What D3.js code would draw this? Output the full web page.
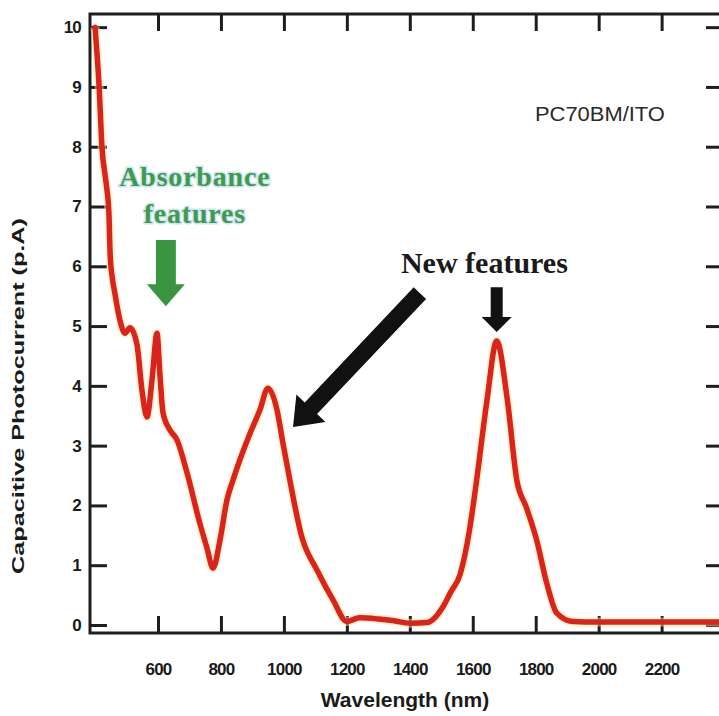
<!DOCTYPE html>
<html>
<head>
<meta charset="utf-8">
<script src="https://cdn.jsdelivr.net/npm/d3@7"></script>
<style>
  html, body { margin: 0; padding: 0; background: #fff; }
  svg { display: block; }
</style>
</head>
<body>
<svg id="chart" width="719" height="716"></svg>
<script>
// ---- data ----
const wavelength = [400, 413, 422, 435, 444, 448, 455, 463, 479, 495, 511, 533, 549, 565, 581, 597, 606, 616, 638, 660, 692, 733, 755, 775, 797, 819, 838, 860, 892, 924, 949, 978, 997, 1019, 1057, 1105, 1156, 1200, 1240, 1300, 1350, 1400, 1455, 1505, 1530, 1560, 1590, 1613, 1645, 1676, 1710, 1740, 1770, 1803, 1835, 1867, 1918, 2000, 2100, 2200, 2300, 2395];
const photocurrent = [10.0, 9.0, 8.0, 7.4, 6.9, 6.2, 5.8, 5.55, 5.1, 4.88, 4.97, 4.7, 3.93, 3.48, 4.1, 4.88, 4.2, 3.55, 3.26, 3.1, 2.55, 1.7, 1.3, 0.95, 1.42, 2.09, 2.42, 2.76, 3.2, 3.6, 3.96, 3.6, 3.04, 2.42, 1.47, 0.92, 0.42, 0.06, 0.12, 0.1, 0.07, 0.03, 0.04, 0.3, 0.55, 0.85, 1.6, 2.45, 3.75, 4.75, 3.76, 2.42, 1.97, 1.42, 0.7, 0.2, 0.06, 0.05, 0.05, 0.05, 0.05, 0.05];
const xTicks = [600, 800, 1000, 1200, 1400, 1600, 1800, 2000, 2200];
const yTicks = [0, 1, 2, 3, 4, 5, 6, 7, 8, 9, 10];
const xTitle = "Wavelength (nm)";
const yTitle = "Capacitive Photocurrent (p.A)";
const sampleLabel = "PC70BM/ITO";
const absorbLabel = ["Absorbance", "features"];
const newLabel = "New features";

// ---- layout ----
const svg = d3.select("#chart");
const L = 90, R = 723, T = 14, B = 633;
const x = d3.scaleLinear().domain([384, 2395]).range([L, R]);
const y = d3.scaleLinear().domain([-0.134, 10.22]).range([B, T]);

svg.append("rect").attr("width", 719).attr("height", 716).attr("fill", "#fff");

const axisColor = "#1e1e1e";
const tickLen = 17;
const fmt = d3.format("d");

// frame
svg.append("rect")
  .attr("x", L).attr("y", T).attr("width", R - L).attr("height", B - T)
  .attr("fill", "none").attr("stroke", axisColor).attr("stroke-width", 3);

// bottom axis
const gx = svg.append("g").attr("transform", `translate(0,${B})`)
  .call(d3.axisBottom(x).tickValues(xTicks).tickFormat(fmt).tickSizeInner(-tickLen).tickSizeOuter(0).tickPadding(tickLen + 13));
gx.select(".domain").remove();
gx.selectAll(".tick line").attr("stroke", axisColor).attr("stroke-width", 3);
gx.selectAll(".tick text")
  .attr("fill", "#1a1a1a").attr("font-family", "'Liberation Sans', Arial, sans-serif")
  .attr("font-weight", "bold").attr("font-size", 17).attr("letter-spacing", -0.8);

// top axis
const gxt = svg.append("g").attr("transform", `translate(0,${T})`)
  .call(d3.axisTop(x).tickValues(xTicks).tickSizeInner(-tickLen).tickSizeOuter(0).tickFormat(""));
gxt.select(".domain").remove();
gxt.selectAll(".tick line").attr("stroke", axisColor).attr("stroke-width", 3);

// left axis
const gy = svg.append("g").attr("transform", `translate(${L},0)`)
  .call(d3.axisLeft(y).tickValues(yTicks).tickFormat(fmt).tickSizeInner(-tickLen).tickSizeOuter(0).tickPadding(9));
gy.select(".domain").remove();
gy.selectAll(".tick line").attr("stroke", axisColor).attr("stroke-width", 3);
gy.selectAll(".tick text")
  .attr("fill", "#1a1a1a").attr("font-family", "'Liberation Sans', Arial, sans-serif")
  .attr("font-weight", "bold").attr("font-size", 17).attr("letter-spacing", -0.8);

// right axis
const gyr = svg.append("g").attr("transform", `translate(${R},0)`)
  .call(d3.axisRight(y).tickValues(yTicks).tickSizeInner(-tickLen).tickSizeOuter(0).tickFormat(""));
gyr.select(".domain").remove();
gyr.selectAll(".tick line").attr("stroke", axisColor).attr("stroke-width", 3);

// axis titles
svg.append("text")
  .attr("x", 405).attr("y", 707).attr("text-anchor", "middle")
  .attr("font-family", "'Liberation Sans', Arial, sans-serif").attr("font-weight", "bold")
  .attr("font-size", 21).attr("fill", "#1a1a1a").text(xTitle);

svg.append("text")
  .attr("transform", "translate(24,396) rotate(-90)").attr("text-anchor", "middle")
  .attr("font-family", "'Liberation Sans', Arial, sans-serif").attr("font-weight", "bold")
  .attr("font-size", 16).attr("fill", "#1a1a1a")
  .attr("textLength", 356).attr("lengthAdjust", "spacingAndGlyphs")
  .text(yTitle);

// sample label
svg.append("text")
  .attr("x", x(2004)).attr("y", 121).attr("text-anchor", "middle")
  .attr("font-family", "'Liberation Sans', Arial, sans-serif")
  .attr("font-size", 20).attr("fill", "#2a2a2a")
  .attr("textLength", 130).attr("lengthAdjust", "spacingAndGlyphs")
  .text(sampleLabel);

// ---- curve ----
const pts = wavelength.map((w, i) => [w, photocurrent[i]]);
const line = d3.line().x(d => x(d[0])).y(d => y(d[1])).curve(d3.curveMonotoneX);
svg.append("path").datum(pts)
  .attr("d", line).attr("fill", "none")
  .attr("stroke", "#f3e9a0").attr("stroke-width", 9).attr("stroke-opacity", 0.5)
  .attr("stroke-linejoin", "round");
svg.append("path").datum(pts)
  .attr("d", line).attr("fill", "none")
  .attr("stroke", "#d9231c").attr("stroke-width", 5.5)
  .attr("stroke-linejoin", "round").attr("stroke-linecap", "round");

// ---- annotation arrows (data-space anchors) ----
function arrowPath(x0, y0, x1, y1, shaftW, headW, headL) {
  const dx = x1 - x0, dy = y1 - y0, len = Math.hypot(dx, dy);
  const ux = dx / len, uy = dy / len, px = -uy, py = ux;
  const bx = x1 - ux * headL, by = y1 - uy * headL;
  const p = [
    [x0 + px * shaftW / 2, y0 + py * shaftW / 2],
    [bx + px * shaftW / 2, by + py * shaftW / 2],
    [bx + px * headW / 2, by + py * headW / 2],
    [x1, y1],
    [bx - px * headW / 2, by - py * headW / 2],
    [bx - px * shaftW / 2, by - py * shaftW / 2],
    [x0 - px * shaftW / 2, y0 - py * shaftW / 2]
  ];
  return "M" + p.map(q => q.join(",")).join("L") + "Z";
}

const arrows = [
  { from: [625, 6.44], to: [625, 5.33], shaft: 20, head: 38, headL: 22, color: "#3b9440" },
  { from: [1676, 5.65], to: [1676, 4.9], shaft: 12, head: 30, headL: 15, color: "#111" },
  { from: [1432, 5.55], to: [1029, 3.31], shaft: 17, head: 40, headL: 26, color: "#111" }
];
svg.selectAll("path.arrow").data(arrows).join("path")
  .attr("class", "arrow")
  .attr("d", a => arrowPath(x(a.from[0]), y(a.from[1]), x(a.to[0]), y(a.to[1]), a.shaft, a.head, a.headL))
  .attr("fill", a => a.color);

// annotation texts
const absorb = svg.append("text")
  .attr("text-anchor", "middle")
  .attr("font-family", "'Liberation Serif', 'Times New Roman', serif").attr("font-weight", "bold")
  .attr("font-size", 28).attr("fill", "#3f9a4c")
  .attr("stroke", "#cfe6f2").attr("stroke-width", 3).attr("paint-order", "stroke")
  .attr("letter-spacing", 0.8);
absorb.append("tspan").attr("x", x(717)).attr("y", 186).text(absorbLabel[0]);
absorb.append("tspan").attr("x", x(717)).attr("y", 223).text(absorbLabel[1]);

svg.append("text")
  .attr("x", x(1637)).attr("y", 273).attr("text-anchor", "middle")
  .attr("font-family", "'Liberation Serif', 'Times New Roman', serif").attr("font-weight", "bold")
  .attr("font-size", 30).attr("fill", "#1a1a1a")
  .text(newLabel);
</script>
</body>
</html>
